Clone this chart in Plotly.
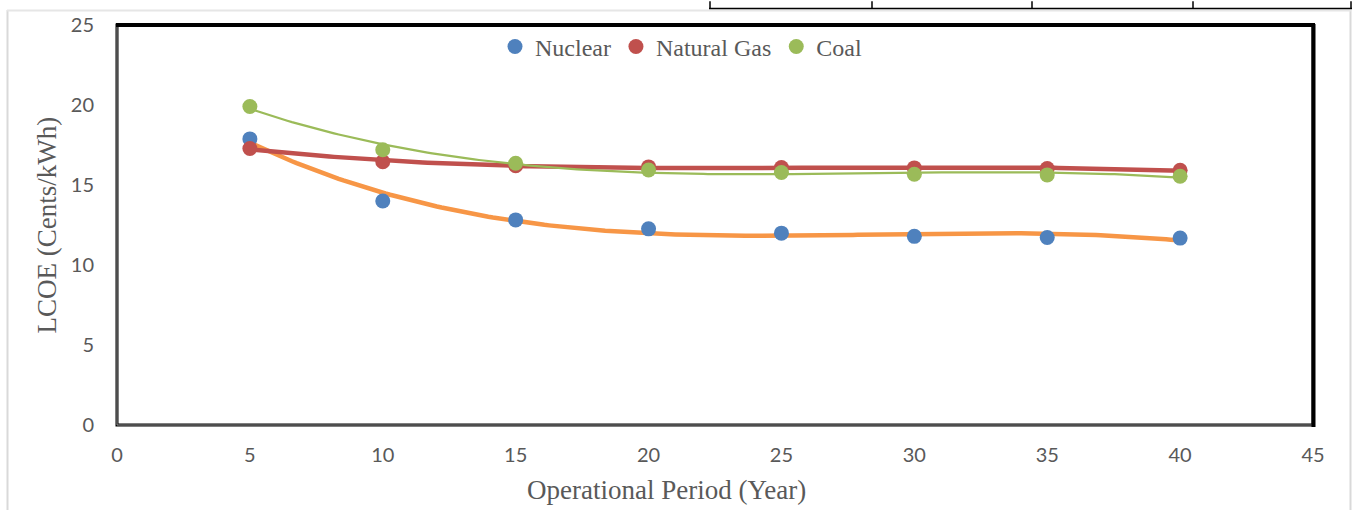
import numpy as np
import plotly.graph_objects as go

years = [5, 10, 15, 20, 25, 30, 35, 40]
nuclear = [17.88, 14.00, 12.82, 12.26, 11.99, 11.79, 11.72, 11.68]
natural_gas = [17.28, 16.45, 16.20, 16.13, 16.09, 16.07, 16.03, 15.92]
coal = [19.91, 17.20, 16.36, 15.94, 15.78, 15.67, 15.63, 15.55]

x_ticks = [0, 5, 10, 15, 20, 25, 30, 35, 40, 45]
y_ticks = [0, 5, 10, 15, 20, 25]

W, H = 1353, 510
L, R, T, B = 117, 40, 22, 85
pw, ph = W - L - R, H - T - B


def px(x):
    return (x - L) / pw


def py(y):
    return (H - B - y) / ph


def trend(xs, ys, deg):
    c = np.polyfit(xs, ys, deg)
    xx = np.linspace(min(xs), max(xs), 200)
    return xx, np.polyval(c, xx)


fig = go.Figure()

series = [
    ("Nuclear", nuclear, "#4F81BD"),
    ("Natural Gas", natural_gas, "#C0504D"),
    ("Coal", coal, "#9BBB59"),
]
trend_style = {
    "Nuclear": ("#F79646", 4.5, 3),
    "Natural Gas": ("#C0504D", 4.5, 3),
    "Coal": ("#9BBB59", 2.2, 3),
}

for name, ys, col in series:
    tc, tw, deg = trend_style[name]
    xx, yy = trend(years, ys, deg)
    fig.add_trace(go.Scatter(x=xx, y=yy, mode="lines", line=dict(color=tc, width=tw),
                             showlegend=False, hoverinfo="skip"))

for name, ys, col in series:
    fig.add_trace(go.Scatter(x=years, y=ys, mode="markers", name=name,
                             marker=dict(color=col, size=15, line=dict(width=0))))

gray = "#595959"
fig.update_layout(
    width=W, height=H,
    margin=dict(l=L, r=R, t=T, b=B),
    paper_bgcolor="white", plot_bgcolor="white",
    showlegend=True,
    legend=dict(orientation="h", x=px(681), y=py(44), xanchor="center", yanchor="middle",
                font=dict(family="Liberation Serif", size=24, color=gray),
                itemwidth=30, bgcolor="rgba(0,0,0,0)", tracegroupgap=0),
    xaxis=dict(range=[0, 45], tickvals=x_ticks, showgrid=False, zeroline=False,
               showline=False, ticks="", ticklabelstandoff=16,
               tickfont=dict(family="Lato", size=20, color=gray)),
    yaxis=dict(range=[0, 25], tickvals=y_ticks, showgrid=False, zeroline=False,
               showline=False, ticks="", ticklabelstandoff=22,
               tickfont=dict(family="Lato", size=20, color=gray)),
    annotations=[
        dict(text="LCOE (Cents/kWh)", xref="paper", yref="paper", x=px(47), y=py(224),
             xanchor="center", yanchor="middle", textangle=-90, showarrow=False,
             font=dict(family="Liberation Serif", size=27, color=gray)),
        dict(text="Operational Period (Year)", xref="paper", yref="paper", x=px(666), y=py(490),
             xanchor="center", yanchor="middle", showarrow=False,
             font=dict(family="Liberation Serif", size=27, color=gray)),
    ],
)

shapes = []
# outer page frame (light gray)
shapes.append(dict(type="line", xref="paper", yref="paper", x0=px(7.5), x1=px(7.5), y0=py(7), y1=py(512),
                   line=dict(color="#D9D9D9", width=2)))
shapes.append(dict(type="line", xref="paper", yref="paper", x0=px(1350.5), x1=px(1350.5), y0=py(7), y1=py(512),
                   line=dict(color="#D9D9D9", width=2)))
shapes.append(dict(type="line", xref="paper", yref="paper", x0=px(7), x1=px(1351), y0=py(7.5), y1=py(7.5),
                   line=dict(color="#E6E6E6", width=2)))
# table fragment at top right
shapes.append(dict(type="line", xref="paper", yref="paper", x0=px(709), x1=px(1352), y0=py(5.5), y1=py(5.5),
                   line=dict(color="black", width=1.5)))
for tx in [710, 872, 1032, 1193, 1351]:
    shapes.append(dict(type="line", xref="paper", yref="paper", x0=px(tx), x1=px(tx), y0=py(-2), y1=py(6),
                       line=dict(color="black", width=1.5)))
# plot border
shapes.append(dict(type="rect", xref="paper", yref="paper", x0=0, x1=1, y0=0, y1=1,
                   line=dict(color="black", width=3)))
shapes.append(dict(type="rect", xref="paper", yref="paper", x0=0, x1=1, y0=0, y1=1,
                   line=dict(color="#9A9A9A", width=1)))
shapes.append(dict(type="line", xref="paper", yref="paper", x0=px(116), x1=px(1315), y0=py(22), y1=py(22),
                   line=dict(color="black", width=4)))
shapes.append(dict(type="line", xref="paper", yref="paper", x0=px(1313.5), x1=px(1313.5), y0=py(21), y1=py(427),
                   line=dict(color="black", width=4)))
fig.update_layout(shapes=shapes)

fig.write_html("out.html", config={"displayModeBar": False},
               post_script="document.body.style.margin='0';document.body.style.overflow='hidden';")
